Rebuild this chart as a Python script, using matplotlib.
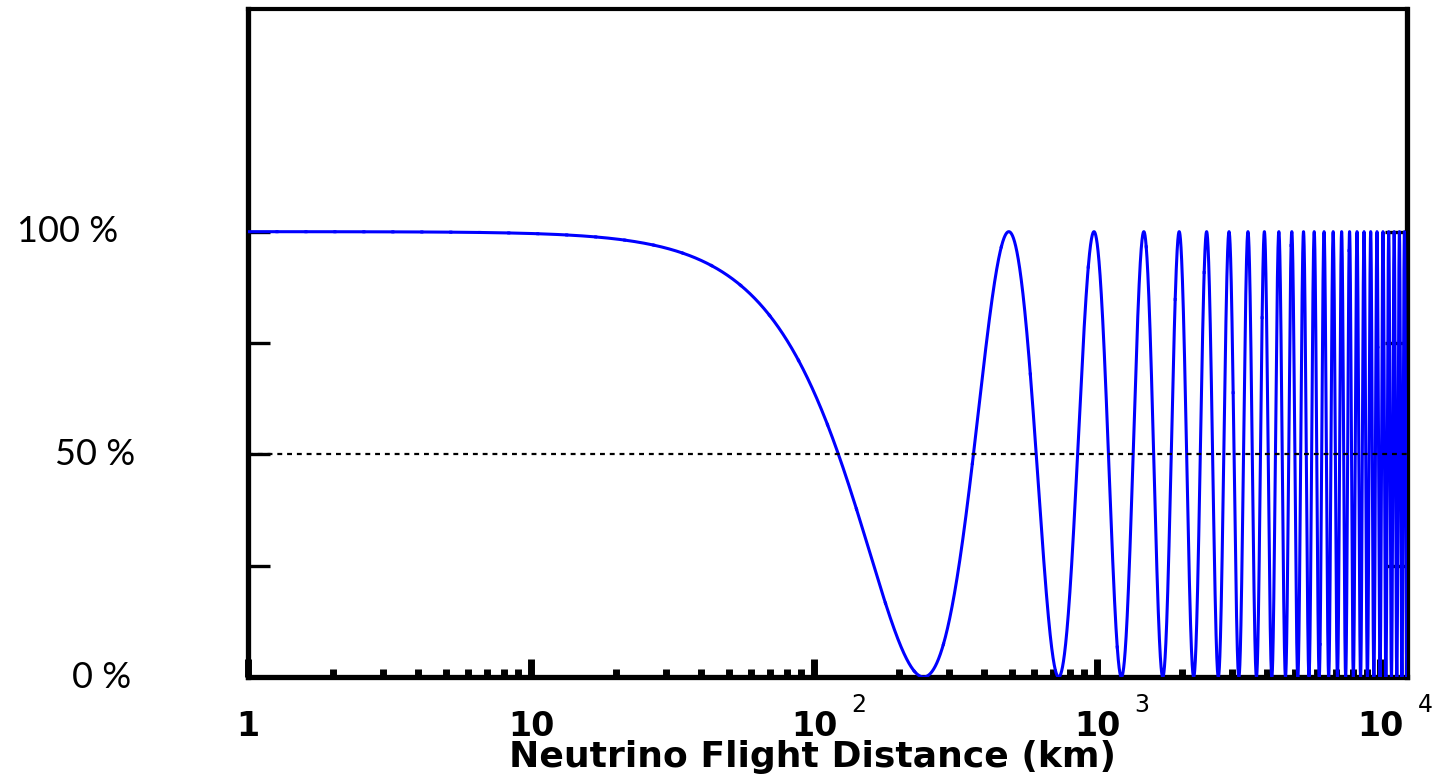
import numpy as np
import matplotlib
matplotlib.use("Agg")
import matplotlib.pyplot as plt
import matplotlib.transforms as mtransforms
from matplotlib.ticker import FixedLocator, NullFormatter

plt.rcParams["agg.path.chunksize"] = 10000

# Two-flavour oscillation: full mixing, first survival minimum at ~244 km
mixing_amplitude = 1.0          # sin^2(2 theta)
first_minimum_km = 244.0        # distance of the first dip to 0 %
x_range_km = (1.0, 12460.0)

decade_ticks = [1, 10, 100, 1000, 10000]
decade_labels = ["1", "10", "10", "10", "10"]
decade_exponents = ["", "", "2", "3", "4"]

percent_ticks = [0, 25, 50, 75, 100]
percent_labels = {100: "100 %", 50: "50 %", 0: "0 %"}
percent_label_left_px = {100: 17, 50: 55, 0: 72}

distance_km = np.geomspace(x_range_km[0], x_range_km[1], 400000)
survival_pct = 100.0 * (1.0 - mixing_amplitude *
                        np.sin(0.5 * np.pi * distance_km / first_minimum_km) ** 2)

W, H = 1439, 779
fig = plt.figure(figsize=(W / 100, H / 100), dpi=100)
ax = fig.add_axes([248 / W, (H - 677) / H, (1407 - 248) / W, (677 - 9) / H])

ax.plot(distance_km, survival_pct, color="#0000ff", lw=2.2, zorder=3)
ax.axhline(50, color="black", lw=1.6, linestyle=(0, (2.2, 2.2)), zorder=4)

ax.set_xscale("log")
ax.set_xlim(*x_range_km)
ax.set_ylim(0, 150)

for side, lw in (("left", 3.8), ("right", 3.8), ("bottom", 3.8), ("top", 3.0)):
    ax.spines[side].set_linewidth(lw)
    ax.spines[side].set_color("black")

# x ticks: thick inward decade and sub-decade marks
ax.xaxis.set_major_locator(FixedLocator(decade_ticks))
ax.xaxis.set_minor_locator(FixedLocator(
    [m * 10 ** d for d in range(0, 4) for m in range(2, 10)]))
ax.xaxis.set_minor_formatter(NullFormatter())
ax.set_xticklabels(decade_labels)
ax.tick_params(axis="x", which="major", direction="in", length=13, width=5,
               pad=24, labelsize=24, top=False)
ax.tick_params(axis="x", which="minor", direction="in", length=6, width=5,
               top=False)
for lab in ax.get_xticklabels():
    lab.set_fontweight("bold")
    lab.set_family("DejaVu Sans")

# y ticks on both sides, labels drawn separately
ax.set_yticks(percent_ticks)
ax.tick_params(axis="y", which="major", direction="in", length=16, width=2.4,
               left=True, right=True, labelleft=False)

# exponents of the decade labels
for t, e in zip(decade_ticks, decade_exponents):
    if e:
        ax.annotate(e, xy=(t, 0), xycoords=("data", "axes fraction"),
                    xytext=(27, -25), textcoords="offset points",
                    ha="left", va="baseline", fontsize=17,
                    family="DejaVu Sans", color="black")

# percentage labels at the left
blend = mtransforms.blended_transform_factory(fig.transFigure, ax.transData)
for v, txt in percent_labels.items():
    fig.text(percent_label_left_px[v] / W, v, txt, transform=blend,
             ha="left", va="center", fontsize=26,
             family=["Lato", "DejaVu Sans"], color="black")

fig.text(813 / W, (H - 767) / H, "Neutrino Flight Distance (km)",
         ha="center", va="baseline", fontsize=26, fontweight="bold",
         family="DejaVu Sans", color="black")

fig.savefig("out.png", dpi=100, facecolor="white")
